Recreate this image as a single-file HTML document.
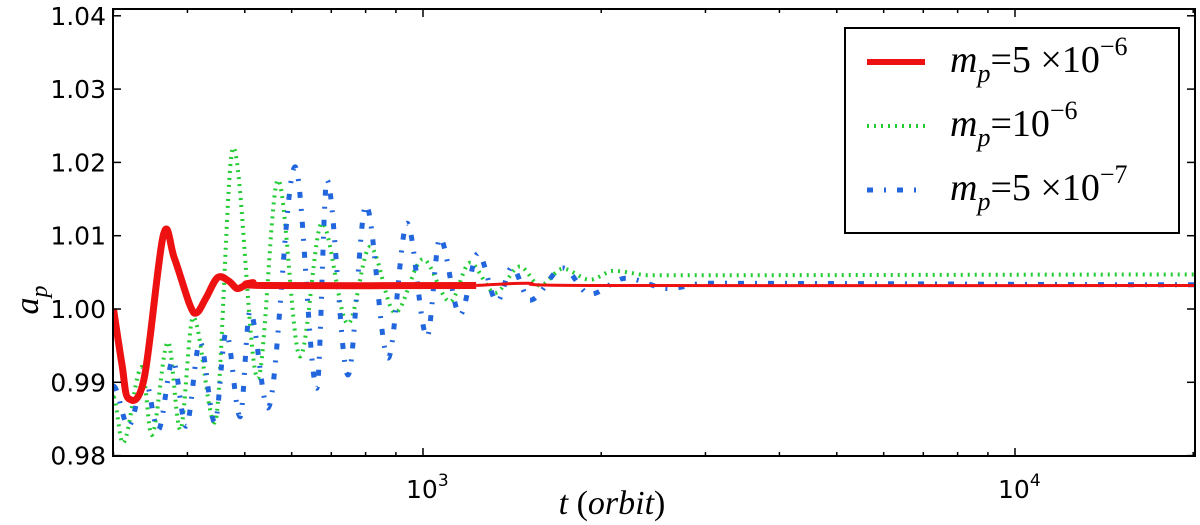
<!DOCTYPE html>
<html><head><meta charset="utf-8">
<style>
body{margin:0;background:#fff;}
svg{display:block;}
.tk{font-family:"DejaVu Sans","Liberation Sans",sans-serif;font-size:25px;fill:#000;}
.mt{font-family:"Liberation Serif","DejaVu Serif",serif;font-style:italic;fill:#000;}
</style></head>
<body>
<svg id="chart" width="1200" height="525" viewBox="0 0 1200 525" xmlns="http://www.w3.org/2000/svg">
<rect x="0" y="0" width="1200" height="525" fill="#fff"/>
<g id="series"></g>
<g id="axes"></g>
<g id="legend">
  <rect x="845" y="28" width="334" height="205" fill="#fff" stroke="#000" stroke-width="2"/>
  <line x1="867" y1="62" x2="925" y2="62" stroke="#ee1111" stroke-width="6"/>
  <line x1="867" y1="126" x2="925" y2="126" stroke="#22cc33" stroke-width="4" stroke-dasharray="2,5"/>
  <line x1="867" y1="190" x2="925" y2="190" stroke="#2266dd" stroke-width="5" stroke-dasharray="6,11,2,11"/>
  <text class="mt" x="950" y="72" font-size="38">m<tspan font-size="26" dy="10">p</tspan><tspan font-style="normal" dy="-10">=5 ×10</tspan><tspan font-style="normal" font-size="26" dy="-17">−6</tspan></text>
  <text class="mt" x="950" y="136" font-size="38">m<tspan font-size="26" dy="10">p</tspan><tspan font-style="normal" dy="-10">=10</tspan><tspan font-style="normal" font-size="26" dy="-17">−6</tspan></text>
  <text class="mt" x="950" y="200" font-size="38">m<tspan font-size="26" dy="10">p</tspan><tspan font-style="normal" dy="-10">=5 ×10</tspan><tspan font-style="normal" font-size="26" dy="-17">−7</tspan></text>
</g>
<text class="mt" x="612" y="514" font-size="34" text-anchor="middle">t <tspan font-style="normal">(</tspan>orbit<tspan font-style="normal">)</tspan></text>
<text class="mt" transform="translate(38,300) rotate(-90)" font-size="34" text-anchor="middle">a<tspan font-size="24" dy="9">p</tspan></text>
</svg>
<script>
const redT=[300,310,318,338,364,380,404,415,430,450,470,485,500,516,540,1230];
const redA=[1.0000,0.9925,0.9878,0.9905,1.0100,1.0070,1.0005,0.9995,1.0015,1.0043,1.0038,1.0028,1.0032,1.0036,1.0032,1.0032];
const redTailT=[1230,1500,2000,20300];
const redTailA=[1.0032,1.0035,1.0032,1.0032];
const greenT=[300,311,335,348,371,389,409,445,478,526,569,620,675,747,814,897,1000,1111,1200,1323,1458,1576,1723,1914,2100,2417,20300];
const greenA=[0.9880,0.9817,0.9921,0.9828,0.9955,0.9835,0.9989,0.9845,1.0220,0.9905,1.0176,0.9935,1.0117,0.9980,1.0085,0.9995,1.0068,1.0010,1.0063,1.0022,1.0058,1.0032,1.0055,1.0040,1.0052,1.0046,1.0047];
const blueT=[300,318,339,357,378,398,420,445,465,491,510,547,608,662,688,747,801,873,940,1016,1068,1155,1239,1334,1413,1516,1723,1914,2200,2600,3000,20300];
const blueA=[0.9895,0.9840,0.9905,0.9835,0.9930,0.9840,0.9955,0.9845,0.9968,0.9853,0.9997,0.9865,1.0194,0.9892,1.0176,0.9910,1.0142,0.9933,1.0117,0.9962,1.0097,0.9992,1.0076,1.0010,1.0057,1.0012,1.0056,1.0020,1.0042,1.0028,1.0035,1.0033];
const yTicks=[0.98,0.99,1.00,1.01,1.02,1.03,1.04];
const yTickLabels=["0.98","0.99","1.00","1.01","1.02","1.03","1.04"];
const xMajor=[1000,10000];
const xMajorLabels=["3","4"];

const L=113,R=1195,T=9,B=456;
const DEC=592,X3=423;
function sx(t){return X3+DEC*(Math.log10(t)-3);}
function sy(a){return 309-(a-1.0)*7330;}
const NS="http://www.w3.org/2000/svg";
function mk(tag,attrs,parent){const e=document.createElementNS(NS,tag);for(const k in attrs)e.setAttribute(k,attrs[k]);parent.appendChild(e);return e;}
function pathD(ts,as){
  let d="M"+sx(ts[0]).toFixed(1)+","+sy(as[0]).toFixed(1);
  for(let i=1;i<ts.length;i++){
    const x0=sx(ts[i-1]),y0=sy(as[i-1]),x1=sx(ts[i]),y1=sy(as[i]);
    const dx=(x1-x0)/3;
    d+=" C"+(x0+dx).toFixed(1)+","+y0.toFixed(1)+" "+(x1-dx).toFixed(1)+","+y1.toFixed(1)+" "+x1.toFixed(1)+","+y1.toFixed(1);
  }
  return d;
}
function pathCR(ts,as){
  const P=ts.map((t,i)=>[sx(t),sy(as[i])]);
  let d="M"+P[0][0].toFixed(1)+","+P[0][1].toFixed(1);
  for(let i=0;i<P.length-1;i++){
    const p0=P[Math.max(0,i-1)],p1=P[i],p2=P[i+1],p3=P[Math.min(P.length-1,i+2)];
    const c1=[p1[0]+(p2[0]-p0[0])/6,p1[1]+(p2[1]-p0[1])/6];
    const c2=[p2[0]-(p3[0]-p1[0])/6,p2[1]-(p3[1]-p1[1])/6];
    d+=" C"+c1[0].toFixed(1)+","+c1[1].toFixed(1)+" "+c2[0].toFixed(1)+","+c2[1].toFixed(1)+" "+p2[0].toFixed(1)+","+p2[1].toFixed(1);
  }
  return d;
}
const sg=document.getElementById("series");
const clip=mk("clipPath",{id:"pc"},sg);mk("rect",{x:L,y:T,width:R-L,height:B-T},clip);
const g=mk("g",{"clip-path":"url(#pc)"},sg);
let p;
p=mk("path",{d:pathD(greenT,greenA),fill:"none",stroke:"#22cc33","stroke-width":4,"stroke-dasharray":"2,5"},g);


p=mk("path",{d:pathD(blueT,blueA),fill:"none",stroke:"#2266dd","stroke-width":5,"stroke-dasharray":"6,11,2,11"},g);


p=mk("path",{d:pathCR(redTailT,redTailA),fill:"none",stroke:"#ee1111","stroke-width":3},g);


p=mk("path",{d:pathCR(redT,redA),fill:"none",stroke:"#ee1111","stroke-width":7,"stroke-linejoin":"round"},g);



const ax=document.getElementById("axes");
let fr=mk("rect",{x:L,y:T,width:R-L,height:B-T,fill:"none",stroke:"#000","stroke-width":2},ax);


yTicks.forEach((v,i)=>{
  const y=sy(v);
  mk("line",{x1:L,y1:y,x2:L+8,y2:y,stroke:"#000","stroke-width":1.5},ax);
  mk("line",{x1:R,y1:y,x2:R-8,y2:y,stroke:"#000","stroke-width":1.5},ax);
  const t=mk("text",{x:106,y:y+9,"text-anchor":"end",class:"tk"},ax);
  t.textContent=yTickLabels[i];
  
  
});
for(let e=2;e<=4;e++){for(let m=1;m<10;m++){const t=m*Math.pow(10,e);const x=sx(t);if(x<L||x>R)continue;
  const len=(m===1)?8:4;
  mk("line",{x1:x,y1:B,x2:x,y2:B-len,stroke:"#000","stroke-width":1.5},ax);
  mk("line",{x1:x,y1:T,x2:x,y2:T+len,stroke:"#000","stroke-width":1.5},ax);
}}
xMajor.forEach((v,i)=>{
  const x=sx(v);
  const t=mk("text",{x:x-17,y:498,class:"tk"},ax);
  t.innerHTML='10<tspan font-size="17" dy="-12">'+xMajorLabels[i]+'</tspan>';
  
  
});
</script>
</body></html>
